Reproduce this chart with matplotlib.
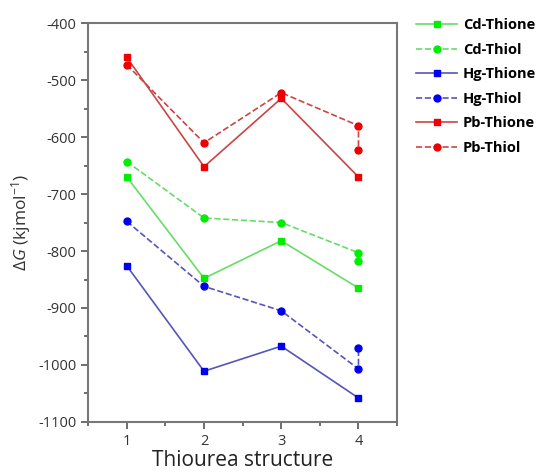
import matplotlib
matplotlib.use('Agg')
import matplotlib.pyplot as plt
from matplotlib.ticker import MultipleLocator

plt.rcParams['font.family'] = ['Open Sans', 'DejaVu Sans']
plt.rcParams['axes.unicode_minus'] = False
plt.rcParams['mathtext.fontset'] = 'custom'
plt.rcParams['mathtext.rm'] = 'Open Sans'
plt.rcParams['mathtext.it'] = 'Open Sans:italic'

# data (thiol series have two values at structure 4)
x_thione = [1, 2, 3, 4]
x_thiol = [1, 2, 3, 4, 4]

cd_thione = [-670, -848, -782, -865]
cd_thiol = [-643, -742, -750, -803, -818]
hg_thione = [-826, -1011, -967, -1058]
hg_thiol = [-748, -862, -905, -1007, -970]
pb_thione = [-460, -652, -532, -670]
pb_thiol = [-473, -610, -522, -580, -622]

fig = plt.figure(figsize=(5.41, 4.73), dpi=100)
ax = fig.add_axes([0.163, 0.108, 0.571, 0.843])

series = [
    ('Cd-Thione', x_thione, cd_thione, '#66dd66', '#00ee00', 's', '-'),
    ('Cd-Thiol', x_thiol, cd_thiol, '#66dd66', '#00ee00', 'o', '--'),
    ('Hg-Thione', x_thione, hg_thione, '#5555bb', '#0000ee', 's', '-'),
    ('Hg-Thiol', x_thiol, hg_thiol, '#5555bb', '#0000ee', 'o', '--'),
    ('Pb-Thione', x_thione, pb_thione, '#cc4444', '#ee0000', 's', '-'),
    ('Pb-Thiol', x_thiol, pb_thiol, '#cc4444', '#ee0000', 'o', '--'),
]
for name, xs, ys, lc, mc, mk, ls in series:
    ax.plot(xs, ys, color=lc, linestyle=ls, linewidth=1.2, marker=mk,
            markersize=5, markerfacecolor=mc, markeredgecolor=mc, label=name)

ax.set_xlim(0.5, 4.5)
ax.set_ylim(-1100, -400)
ax.xaxis.set_major_locator(MultipleLocator(1))
ax.xaxis.set_minor_locator(MultipleLocator(0.5))
ax.yaxis.set_major_locator(MultipleLocator(100))
ax.yaxis.set_minor_locator(MultipleLocator(50))
ax.tick_params(which='both', direction='out', color='#555555', width=1.2)
ax.tick_params(which='major', length=5, labelsize=10.5, labelcolor='#333333')
ax.tick_params(which='minor', length=3)
for sp in ax.spines.values():
    sp.set_color('#777777')
    sp.set_linewidth(1.5)

ax.set_xlabel('Thiourea structure', fontsize=15, color='#222222', labelpad=1)
ax.set_ylabel(r'$\mathit{\Delta G}$ (kjmol$^{\mathrm{-1}}$)', fontsize=12.5,
              color='#333333', labelpad=4)

ax.legend(loc='upper left', bbox_to_anchor=(1.02, 1.045), frameon=False,
          prop={'weight': 'bold', 'size': 10.5}, handlelength=2.8,
          handletextpad=0.4, labelspacing=0.72)

fig.savefig('out.png', dpi=100)
